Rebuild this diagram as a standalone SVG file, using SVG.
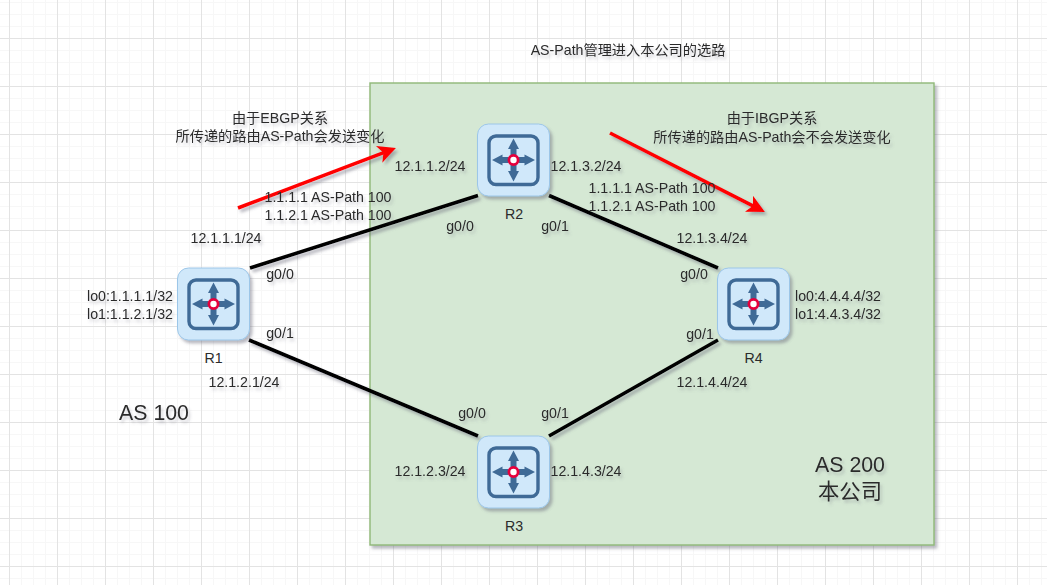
<svg xmlns="http://www.w3.org/2000/svg" width="1047" height="585" viewBox="0 0 1047 585">
<style>
text{font-family:"Liberation Sans","Noto Sans CJK SC",sans-serif;font-size:14.2px;fill:#2b2b2b;text-anchor:middle}
.l{font-size:21.3px}
.link{fill:none;stroke:#000;stroke-width:3.6}
.red{fill:none;stroke:#f00;stroke-width:3.6}
.rbody{fill:#d0e8fa;stroke:#9cc6e8;stroke-width:1}
.rin{fill:none;stroke:#3f6a96;stroke-width:3.4}
.ar{fill:#3f6a96}
.dot{fill:#fff;stroke:#e6003c;stroke-width:2.8}
</style>
<defs>
<pattern id="minor" width="12" height="12" patternUnits="userSpaceOnUse" x="9" y="2"><path d="M0 .5H12M.5 0V12" fill="none" stroke="#f7f7f7" stroke-width="1"/></pattern>
<pattern id="major" width="48" height="48" patternUnits="userSpaceOnUse" x="9" y="38"><path d="M0 .5H48M.5 0V48" fill="none" stroke="#e3e3e3" stroke-width="1"/></pattern>
<filter id="sh" x="-20%" y="-20%" width="140%" height="140%"><feDropShadow dx="2.5" dy="3" stdDeviation="1.5" flood-color="#667" flood-opacity="0.45"/></filter>
<filter id="ts" x="-10%" y="-30%" width="120%" height="170%"><feDropShadow dx="2" dy="3" stdDeviation="1.5" flood-color="#667" flood-opacity="0.3"/></filter>
<g id="router">
<rect class="rbody" x="0" y="0" width="72" height="72" rx="11" filter="url(#sh)"/>
<rect class="rin" x="11.500" y="12" width="49" height="48.500" rx="7"/>
<g id="arrows">
<path class="ar" d="M36 14.500L41.500 25H39V31H33V25H30.500Z"/>
<path class="ar" d="M36 57.500L41.500 47H39V41H33V47H30.500Z"/>
<path class="ar" d="M14.500 36L25 30.500V33H31V39H25V41.500Z"/>
<path class="ar" d="M57.500 36L47 30.500V33H41V39H47V41.500Z"/>
</g>
<circle class="dot" cx="36" cy="36" r="4.600"/>
</g>
<marker id="redArrow" markerUnits="userSpaceOnUse" markerWidth="18" markerHeight="18" refX="5" refY="9" orient="auto" viewBox="0 0 18 18"><path d="M0 0L18 9L0 18L4.500 9Z" fill="#f00"/></marker>
</defs>
<rect width="1047" height="585" fill="#fff"/>
<rect width="1047" height="585" fill="url(#minor)"/>
<rect width="1047" height="585" fill="url(#major)"/>
<g id="as200"><rect x="370" y="83" width="564" height="462" fill="#d5e8d4" stroke="#8fb878" stroke-width="1.400" filter="url(#sh)"/></g>
<g id="connectors" filter="url(#sh)">
<path class="link" d="M250 268L478 195.500"/>
<path class="link" d="M249 340L478 436"/>
<path class="link" d="M549 195.500L718 268"/>
<path class="link" d="M549 436L718 340"/>
<path class="red" d="M238 208L383.800 152.600" marker-end="url(#redArrow)"/>
<path class="red" d="M610 133L753.400 206.100" marker-end="url(#redArrow)"/>
</g>
<g id="R1"><use href="#router" x="177.500" y="268"/><text x="213.500" y="363">R1</text></g>
<g id="R2"><use href="#router" x="477.500" y="124"/><text x="514" y="219">R2</text></g>
<g id="R3"><use href="#router" x="477.500" y="436"/><text x="514" y="531">R3</text></g>
<g id="R4"><use href="#router" x="717.500" y="268"/><text x="753.500" y="363">R4</text></g>
<g id="labels" filter="url(#ts)">
<text x="628" y="55">AS-Path管理进入本公司的选路</text>
<text x="280" y="123">由于EBGP关系</text>
<text x="280" y="141">所传递的路由AS-Path会发送变化</text>
<text x="772" y="123">由于IBGP关系</text>
<text x="772" y="142">所传递的路由AS-Path会不会发送变化</text>
<text x="328" y="202">1.1.1.1 AS-Path 100</text>
<text x="328" y="220">1.1.2.1 AS-Path 100</text>
<text x="652" y="193">1.1.1.1 AS-Path 100</text>
<text x="652" y="211">1.1.2.1 AS-Path 100</text>
<text x="226" y="243">12.1.1.1/24</text>
<text x="430" y="171">12.1.1.2/24</text>
<text x="586" y="171">12.1.3.2/24</text>
<text x="712" y="243">12.1.3.4/24</text>
<text x="244" y="387">12.1.2.1/24</text>
<text x="712" y="387">12.1.4.4/24</text>
<text x="430" y="476">12.1.2.3/24</text>
<text x="586" y="476">12.1.4.3/24</text>
<text x="130" y="301">lo0:1.1.1.1/32</text>
<text x="130" y="319">lo1:1.1.2.1/32</text>
<text x="838" y="301">lo0:4.4.4.4/32</text>
<text x="838" y="319">lo1:4.4.3.4/32</text>
<text x="280" y="279">g0/0</text>
<text x="280" y="338">g0/1</text>
<text x="460" y="231">g0/0</text>
<text x="555" y="231">g0/1</text>
<text x="694" y="279">g0/0</text>
<text x="700" y="339">g0/1</text>
<text x="472" y="418">g0/0</text>
<text x="555" y="418">g0/1</text>
<text class="l" x="154" y="420">AS 100</text>
<text class="l" x="850" y="472">AS 200</text>
<text class="l" x="850" y="499">本公司</text>
</g>
</svg>
